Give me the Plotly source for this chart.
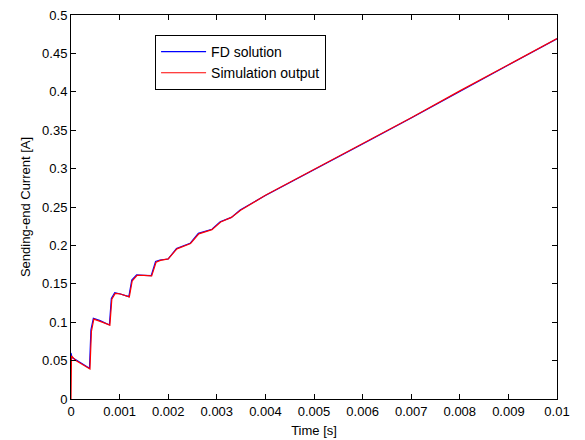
import plotly.graph_objects as go

# FD solution (blue)
t_fd = [0, 0.00002, 0.0001, 0.0002, 0.0003, 0.00038, 0.00041, 0.00046, 0.0006,
        0.00079, 0.00083, 0.0009, 0.001, 0.00119, 0.00125, 0.00135, 0.0015,
        0.00165, 0.00174, 0.00183, 0.002, 0.00217, 0.00245, 0.00262, 0.0029,
        0.00307, 0.0033, 0.00348, 0.004, 0.005, 0.006, 0.007, 0.008, 0.009, 0.01]
i_fd = [0.060, 0.054, 0.051, 0.047, 0.043, 0.040, 0.090, 0.105, 0.102,
        0.0964, 0.131, 0.1385, 0.137, 0.1333, 0.155, 0.1615, 0.161,
        0.1606, 0.179, 0.181, 0.1823, 0.196, 0.2027, 0.2157, 0.221,
        0.2309, 0.2365, 0.246, 0.265, 0.298, 0.332, 0.366, 0.401, 0.435, 0.469]

# Simulation output (red)
t_sim = [0, 0.00001, 0.0001, 0.0002, 0.0003, 0.00039, 0.00042, 0.00047, 0.0006,
         0.0008, 0.00084, 0.00091, 0.001, 0.0012, 0.00126, 0.00136, 0.0015,
         0.00166, 0.00175, 0.00184, 0.002, 0.00218, 0.00246, 0.00263, 0.0029,
         0.00308, 0.0033, 0.00349, 0.004, 0.005, 0.006, 0.007, 0.008, 0.009, 0.01]
i_sim = [0.0, 0.056, 0.050, 0.046, 0.042, 0.039, 0.088, 0.104, 0.101,
         0.0962, 0.130, 0.1375, 0.137, 0.1330, 0.154, 0.161, 0.161,
         0.1603, 0.178, 0.1805, 0.1825, 0.1955, 0.2025, 0.215, 0.2205,
         0.2305, 0.2365, 0.2458, 0.2652, 0.2985, 0.3322, 0.3662, 0.4012, 0.4352, 0.4692]

x_ticks = [0, 0.001, 0.002, 0.003, 0.004, 0.005, 0.006, 0.007, 0.008, 0.009, 0.01]
x_tick_text = ["0", "0.001", "0.002", "0.003", "0.004", "0.005", "0.006",
               "0.007", "0.008", "0.009", "0.01"]
y_ticks = [0, 0.05, 0.1, 0.15, 0.2, 0.25, 0.3, 0.35, 0.4, 0.45, 0.5]
y_tick_text = ["0", "0.05", "0.1", "0.15", "0.2", "0.25", "0.3", "0.35", "0.4", "0.45", "0.5"]

font = dict(family="Liberation Sans, Arial, sans-serif", size=13, color="black")
tick_font = dict(family="Liberation Sans, Arial, sans-serif", size=13, color="black")

fig = go.Figure()
fig.add_trace(go.Scatter(x=t_fd, y=i_fd, mode="lines", name="FD solution",
                         line=dict(color="#0000FF", width=1.2)))
fig.add_trace(go.Scatter(x=t_sim, y=i_sim, mode="lines", name="Simulation output",
                         line=dict(color="#FF0000", width=1.2)))

axis_common = dict(showgrid=False, zeroline=False, showline=True, linecolor="black",
                   linewidth=1, mirror="ticks", ticks="inside", ticklen=5,
                   tickcolor="black", tickfont=tick_font, automargin=False)

fig.update_xaxes(range=[0, 0.01], tickvals=x_ticks, ticktext=x_tick_text,
                 title=dict(text="Time [s]", font=font, standoff=8), **axis_common)
fig.update_yaxes(range=[0, 0.5], tickvals=y_ticks, ticktext=y_tick_text,
                 title=dict(text="Sending-end Current [A]", font=font, standoff=8), **axis_common)

fig.update_layout(
    width=585, height=440,
    margin=dict(l=71, r=28, t=15, b=41),
    paper_bgcolor="white", plot_bgcolor="white",
    font=font,
    showlegend=True,
    legend=dict(x=0.173, y=0.948, xanchor="left", yanchor="top",
                bgcolor="white", bordercolor="black", borderwidth=1,
                font=dict(family="Liberation Sans, Arial, sans-serif", size=14, color="black"),
                tracegroupgap=0, itemwidth=45),
)

fig.write_html("out.html")
